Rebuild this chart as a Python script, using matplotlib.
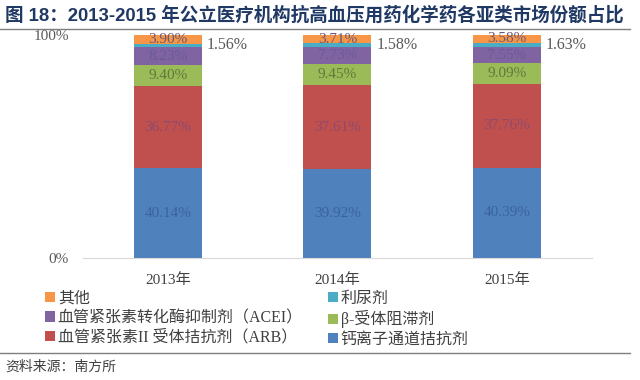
import matplotlib
matplotlib.use('Agg')
import matplotlib.pyplot as plt
import numpy as np

plt.rcParams['font.family'] = ['Liberation Serif', 'Noto Sans CJK SC', 'DejaVu Sans']

years = ['2013年', '2014年', '2015年']
series_names = ['钙离子通道拮抗剂', '血管紧张素II 受体拮抗剂（ARB）', 'β-受体阻滞剂',
                '血管紧张素转化酶抑制剂（ACEI）', '利尿剂', '其他']
calcium = [40.14, 39.92, 40.39]
arb = [36.77, 37.61, 37.76]
beta = [9.40, 9.45, 9.09]
acei = [8.23, 7.73, 7.55]
diuretic = [1.56, 1.58, 1.63]
other = [3.90, 3.71, 3.58]

colors = ['#4F81BD', '#C0504D', '#9BBB59', '#8064A2', '#4BACC6', '#F79646']
label_colors = ['#3B62A0', '#8E4A6E', '#5E7A3A', '#6A5A9A', None, '#6A5A7A']

fig = plt.figure(figsize=(6.4, 3.8), dpi=100)
ax = fig.add_axes([0.1297, 0.321, 0.795, 0.587])

x = np.arange(len(years))
width = 0.4
bottom = np.zeros(len(years))
containers = []
for i, vals in enumerate([calcium, arb, beta, acei, diuretic, other]):
    vals = np.array(vals)
    bars = ax.bar(x, vals, width, bottom=bottom, color=colors[i], label=series_names[i])
    containers.append(bars)
    for j, v in enumerate(vals):
        yc = bottom[j] + v / 2
        if label_colors[i] is None:
            ax.text(x[j] + width / 2 + 0.03, yc, f'{v:.2f}%', ha='left', va='center',
                    fontsize=11.5, color='#595959')
        else:
            ax.text(x[j], yc, f'{v:.2f}%', ha='center', va='center',
                    fontsize=11, color=label_colors[i])
    bottom += vals

ax.set_xlim(-0.5, 2.5)
ax.set_ylim(0, 100)
ax.set_yticks([0, 100])
ax.set_yticklabels(['0%', '100%'], fontsize=11, color='#595959')
ax.set_xticks(x)
ax.set_xticklabels(years, fontsize=11, color='#404040')
ax.tick_params(axis='both', length=0)
ax.tick_params(axis='y', pad=10)
ax.tick_params(axis='x', pad=11)
for s in ['top', 'right', 'left']:
    ax.spines[s].set_visible(False)
ax.spines['bottom'].set_color('#D9D9D9')

# legend: two columns placed manually
leg_kw = dict(frameon=False, fontsize=11.5, handlelength=0.6, handleheight=0.6,
              handletextpad=0.2, labelspacing=0.2, borderaxespad=0, borderpad=0,
              labelcolor='#404040')
col1 = [containers[5], containers[3], containers[1]]
col2 = [containers[4], containers[2], containers[0]]
leg1 = fig.legend(col1, [c.get_label() for c in col1], loc='upper left',
                  bbox_to_anchor=(45 / 640, 1 - 291 / 380), **leg_kw)
leg2 = fig.legend(col2, [c.get_label() for c in col2], loc='upper left',
                  bbox_to_anchor=(328 / 640, 1 - 291 / 380), **leg_kw)

# title and rules
fig.text(0.008, 1 - 15 / 380, '图 18：2013-2015 年公立医疗机构抗高血压用药化学药各亚类市场份额占比',
         fontsize=13.3, fontweight='bold', color='#1F3864', va='center', ha='left',
         family=['Liberation Sans', 'Noto Sans CJK SC'])
fig.add_artist(plt.Line2D([0, 0.985], [1 - 29 / 380] * 2, color='#7F7F7F', lw=1))
fig.add_artist(plt.Line2D([0, 0.985], [1 - 353 / 380] * 2, color='#7F7F7F', lw=1))
fig.text(0.008, 1 - 367 / 380, '资料来源：南方所', fontsize=10, style='italic',
         color='#404040', va='center', ha='left', family=['Noto Sans CJK SC'])

fig.savefig('out.png', dpi=100, facecolor='white')
